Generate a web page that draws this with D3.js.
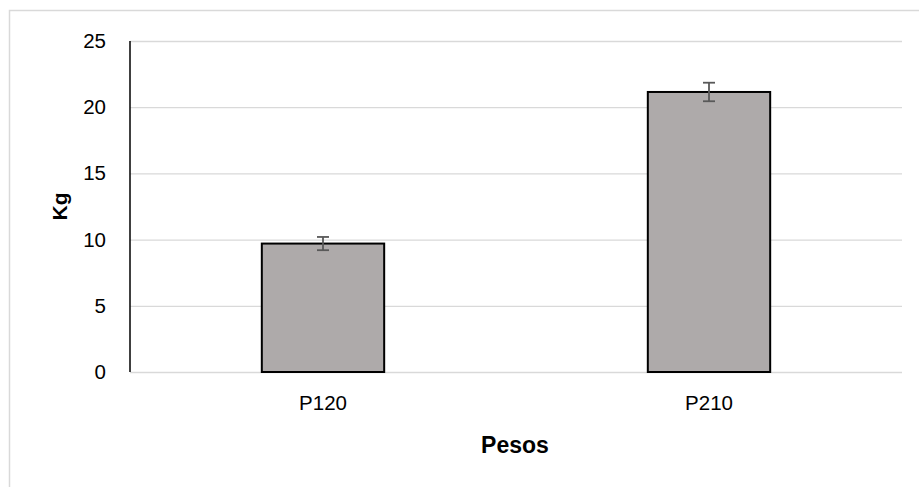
<!DOCTYPE html>
<html><head><meta charset="utf-8">
<script src="https://cdn.jsdelivr.net/npm/d3@7"></script>
<style>body{margin:0;background:#fff}svg{display:block}</style>
</head><body>
<svg id="c" width="919" height="487"></svg>
<script>
const categories = ["P120", "P210"];
const values = [9.7, 21.15];
const errors = [0.5, 0.7];
const yTicks = [0, 5, 10, 15, 20, 25];
const xTitle = "Pesos";
const yTitle = "Kg";

const svg = d3.select("#c");
const font = "'Liberation Sans', Arial, sans-serif";
const m = {l: 130, r: 902, t: 41, b: 372};

svg.append("rect").attr("x", 9.5).attr("y", 10.5).attr("width", 920).attr("height", 490)
  .attr("fill", "#fff").attr("stroke", "#d9d9d9").attr("stroke-width", 1.5);

const x = d3.scaleBand().domain(categories).range([m.l, m.r]);
const y = d3.scaleLinear().domain([0, 25]).range([m.b, m.t]);
const barW = x.bandwidth() * 0.317;

// gridlines
svg.append("g").selectAll("line").data(yTicks).join("line")
  .attr("x1", m.l).attr("x2", m.r)
  .attr("y1", d => y(d) + 0.5).attr("y2", d => y(d) + 0.5)
  .attr("stroke", "#d9d9d9").attr("stroke-width", 1.3);

// y axis
const ya = d3.axisLeft(y).tickValues(yTicks).tickSize(0).tickPadding(24);
const yg = svg.append("g").attr("transform", `translate(${m.l},0)`).call(ya);
yg.select(".domain").remove();
yg.selectAll("text").attr("font-family", font).attr("font-size", 20.5).attr("fill", "#000");
svg.append("line").attr("x1", m.l).attr("x2", m.l).attr("y1", m.t).attr("y2", m.b)
  .attr("stroke", "#000").attr("stroke-width", 1.5);

// x axis labels
const xa = d3.axisBottom(x).tickSize(0).tickPadding(23);
const xg = svg.append("g").attr("transform", `translate(0,${m.b})`).call(xa);
xg.select(".domain").remove();
xg.selectAll("text").attr("font-family", font).attr("font-size", 20.5).attr("fill", "#000");

// bars
const data = categories.map((c, i) => ({c, v: values[i], e: errors[i]}));
svg.append("g").selectAll("rect").data(data).join("rect")
  .attr("x", d => x(d.c) + x.bandwidth() / 2 - barW / 2)
  .attr("width", barW)
  .attr("y", d => y(d.v))
  .attr("height", d => y(0) - y(d.v))
  .attr("fill", "#aeaaaa").attr("stroke", "#000").attr("stroke-width", 2);

// error bars
const eg = svg.append("g").attr("stroke", "#595959").attr("stroke-width", 1.8);
data.forEach(d => {
  const cx = x(d.c) + x.bandwidth() / 2;
  eg.append("line").attr("x1", cx).attr("x2", cx).attr("y1", y(d.v + d.e)).attr("y2", y(d.v - d.e));
  eg.append("line").attr("x1", cx - 6).attr("x2", cx + 6).attr("y1", y(d.v + d.e)).attr("y2", y(d.v + d.e));
  eg.append("line").attr("x1", cx - 6).attr("x2", cx + 6).attr("y1", y(d.v - d.e)).attr("y2", y(d.v - d.e));
});

// titles
svg.append("text").attr("x", 515).attr("y", 453).attr("text-anchor", "middle")
  .attr("font-family", font).attr("font-weight", "bold").attr("font-size", 23).text(xTitle);
svg.append("text").attr("transform", `translate(67,${(m.t + m.b) / 2}) rotate(-90)`)
  .attr("text-anchor", "middle").attr("font-family", font).attr("font-weight", "bold")
  .attr("font-size", 21).text(yTitle);
</script>
</body></html>
